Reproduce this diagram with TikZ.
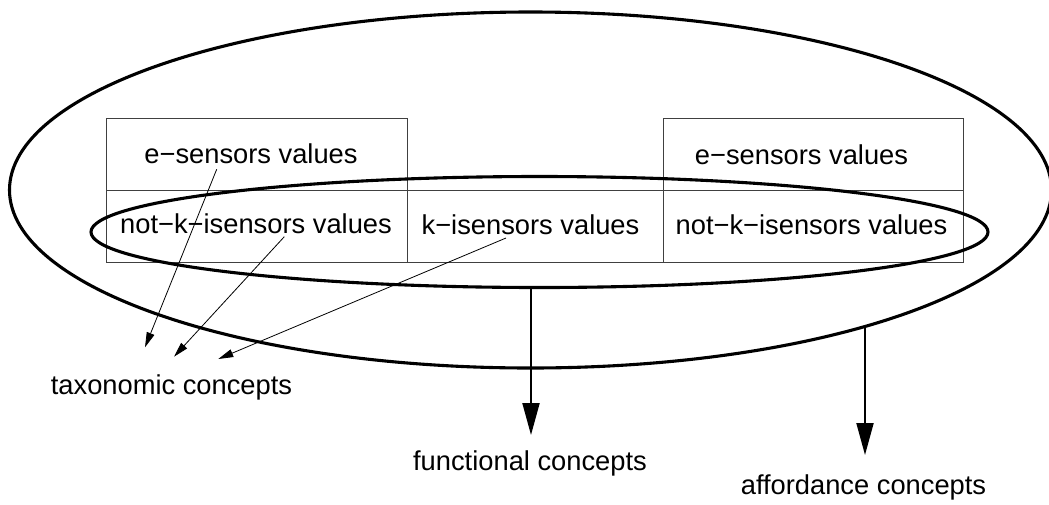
\documentclass[tikz,border=0pt]{standalone}
\usepackage{fontspec}
\setmainfont{Liberation Sans}
\usetikzlibrary{arrows.meta,shapes.geometric}
\begin{document}
\begin{tikzpicture}[x=1pt,y=-1pt,
  txt/.style={font=\fontsize{27.3pt}{32pt}\selectfont, inner sep=0pt, anchor=base},
  cell/.style={draw=black!75, line width=0.9pt, rectangle, inner sep=0pt, outer sep=0pt},
  ring/.style={draw, ellipse, line width=3.1pt, inner sep=0pt, outer sep=0pt},
  pointer/.style={line width=0.8pt, -{Triangle[length=15pt,width=8pt]}},
  bigarrow/.style={line width=2pt, -{Triangle[length=32pt,width=17pt]}}]
\useasboundingbox (0,0) rectangle (1049,504);

% table of sensor values
\node[cell, minimum width=301pt, minimum height=72pt] (eL) at (256.5,154) {};
\node[cell, minimum width=300pt, minimum height=72pt] (eR) at (813,154) {};
\node[cell, minimum width=301pt, minimum height=72pt] (nL) at (256.5,226) {};
\node[cell, minimum width=256pt, minimum height=72pt] (kM) at (535,226) {};
\node[cell, minimum width=300pt, minimum height=72pt] (nR) at (813,226) {};

\node[txt] (teL) at (251,163) {e−sensors values};
\node[txt] (teR) at (801.5,164) {e−sensors values};
\node[txt] (tnL) at (256,233.5) {not−k−isensors values};
\node[txt] (tk)  at (530.5,234) {k−isensors values};
\node[txt] (tnR) at (811.5,234) {not−k−isensors values};

% concept labels
\node[txt] (tax)  at (171.5,394) {taxonomic concepts};
\node[txt] (func) at (530,470) {functional concepts};
\node[txt] (aff)  at (863.5,494) {affordance concepts};

% groupings
\node[ring, minimum width=1042pt, minimum height=356pt] (outer) at (530.5,190) {};
\node[ring, minimum width=897pt, minimum height=111pt] (inner) at (539.5,232) {};

% pointers to taxonomic concepts
\coordinate (s1) at (216.7,169.3);
\coordinate (t1) at (145,347.3);
\coordinate (s2) at (284.3,236.7);
\coordinate (t2) at (174,356.7);
\coordinate (s3) at (506,238);
\coordinate (t3) at (218.3,359);
\draw[pointer] (s1) -- (t1);
\draw[pointer] (s2) -- (t2);
\draw[pointer] (s3) -- (t3);

% functional and affordance arrows
\coordinate (fs) at (531,287.5);
\coordinate (ft) at (531,435);
\coordinate (as) at (865,327);
\coordinate (at) at (865,455);
\draw[bigarrow] (fs) -- (ft);
\draw[bigarrow] (as) -- (at);
\end{tikzpicture}
\end{document}
